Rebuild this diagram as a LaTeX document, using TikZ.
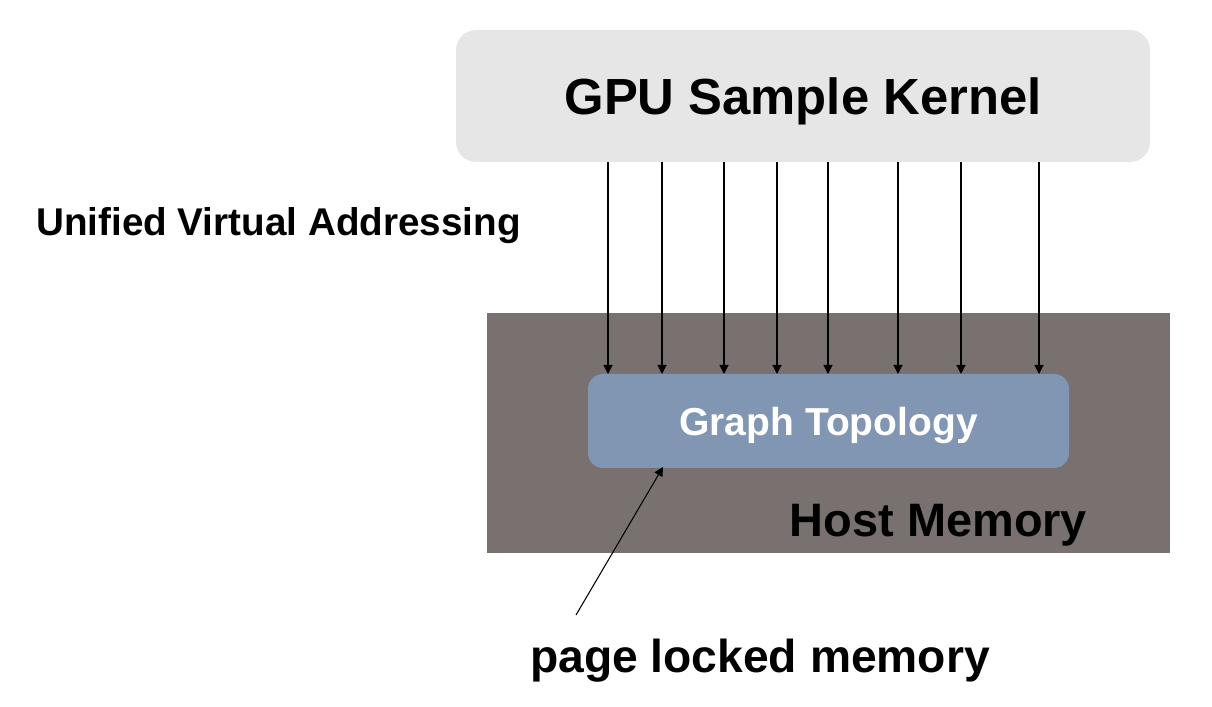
\documentclass[tikz,border=0pt]{standalone}
\usepackage{fontspec}
\setmainfont{Liberation Sans}
\usetikzlibrary{arrows.meta}

\definecolor{kernelgray}{HTML}{E6E6E6}
\definecolor{hostgray}{HTML}{78716F}
\definecolor{topoblue}{HTML}{8096B2}

\begin{document}
\begin{tikzpicture}[
  access/.style={draw=black, line width=0.6pt, -{Triangle[length=1.8mm, width=1.8mm]}},
  block/.style={inner sep=0pt, outer sep=0pt, text depth=0pt}]
\useasboundingbox (0,0) rectangle (24.24,14.14);

\node[block, fill=hostgray, minimum width=13.66cm, minimum height=4.8cm] (host) at (16.57,5.48) {};

\node[block, fill=kernelgray, rounded corners=0.4cm, minimum width=13.88cm, minimum height=2.64cm] (kernel) at (16.06,12.22) {\fontsize{28.9}{34}\selectfont\bfseries GPU Sample Kernel};

\node[block, fill=topoblue, rounded corners=0.3cm, minimum width=9.62cm, minimum height=1.88cm, text=white] (topo) at (16.57,5.72) {\fontsize{22.2}{26}\selectfont\bfseries Graph Topology};

\node[align=left] (uva) at (5.57,9.62) {\fontsize{22}{26}\selectfont\bfseries Unified Virtual Addressing};

\node[align=center] (hostlabel) at (18.77,3.64) {\fontsize{26.7}{32}\selectfont\bfseries Host Memory};

\node[align=center] (locked) at (15.2,0.92) {\fontsize{26.3}{32}\selectfont\bfseries page locked memory};
\coordinate (lockedtail) at (11.52,1.84);
\coordinate (lockedhead) at (13.26,4.8);

\draw [access] (kernel.south -| 12.16,0) -- (topo.north -| 12.16,0);
\draw [access] (kernel.south -| 13.24,0) -- (topo.north -| 13.24,0);
\draw [access] (kernel.south -| 14.48,0) -- (topo.north -| 14.48,0);
\draw [access] (kernel.south -| 15.54,0) -- (topo.north -| 15.54,0);
\draw [access] (kernel.south -| 16.56,0) -- (topo.north -| 16.56,0);
\draw [access] (kernel.south -| 17.96,0) -- (topo.north -| 17.96,0);
\draw [access] (kernel.south -| 19.22,0) -- (topo.north -| 19.22,0);
\draw [access] (kernel.south -| 20.78,0) -- (topo.north -| 20.78,0);

\draw [access] (lockedtail) -- (lockedhead);% points at the pinned block
\end{tikzpicture}
\end{document}
